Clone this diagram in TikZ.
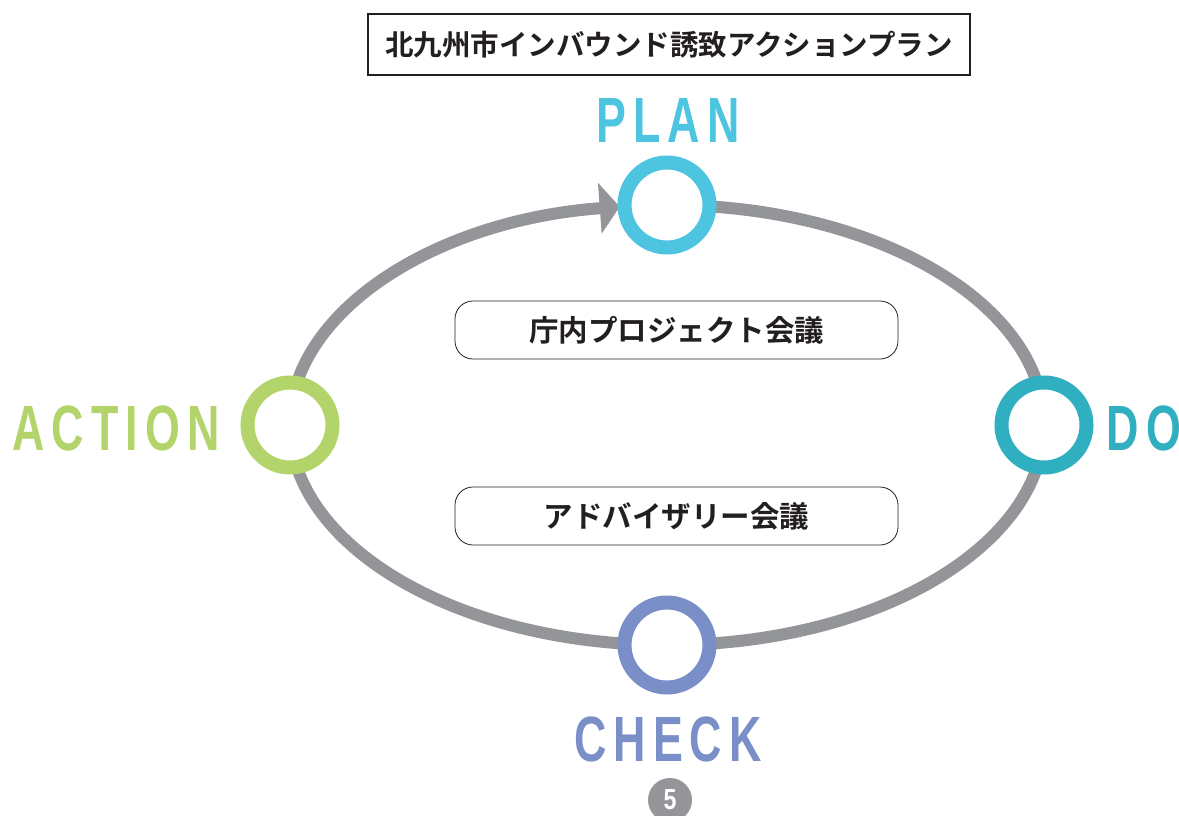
\documentclass[tikz,border=0pt]{standalone}
\usepackage{fontspec}
\usetikzlibrary{arrows.meta}
\newfontfamily\cjk{Noto Sans CJK JP}[BoldFont={Noto Sans CJK JP Bold}]
\newfontfamily\lblfont{Liberation Sans}[FakeStretch=0.7,LetterSpace=11,BoldFont={Liberation Sans Bold}]
\newfontfamily\numfont{Liberation Sans}[FakeStretch=0.8,BoldFont={Liberation Sans Bold}]
\definecolor{ringgray}{HTML}{939598}
\definecolor{plancol}{HTML}{4DC4E0}
\definecolor{docol}{HTML}{2FAFBF}
\definecolor{checkcol}{HTML}{7A8FC8}
\definecolor{actcol}{HTML}{B2D46A}
\definecolor{ink}{HTML}{231F20}
\pgfdeclarelayer{bg}
\pgfsetlayers{bg,main}
\begin{document}
\begin{tikzpicture}[x=1pt,y=-1pt,
  ring/.style={circle,draw=#1,line width=14pt,fill=white,minimum size=85pt,inner sep=0pt},
  cycleline/.style={draw=ringgray,line width=12pt},
  phase/.style={text=#1,font=\lblfont\bfseries\fontsize{64}{64}\selectfont,inner sep=0pt},
  meeting/.style={draw=ink,line width=0.8pt,rounded corners=18pt,minimum width=443pt,minimum height=58pt,inner sep=0pt,
    font=\cjk\bfseries\fontsize{29.5}{29.5}\selectfont,text=ink}]
\useasboundingbox (0,0) rectangle (1179,816);

\node[draw=ink,line width=1.2pt,minimum width=602pt,minimum height=61pt,inner sep=0pt,
  font=\cjk\bfseries\fontsize{28.5}{28.5}\selectfont,text=ink] (title) at (669,44.5) {北九州市インバウンド誘致アクションプラン};

\node[ring=plancol] (plan) at (667,205) {};
\node[ring=docol] (do) at (1044,425) {};
\node[ring=checkcol] (check) at (667,645) {};
\node[ring=actcol] (action) at (290,425) {};

\begin{pgfonlayer}{bg}
\fill[white] (0,0) rectangle (1179,816);
\draw[cycleline,-{Triangle[length=20pt,width=50pt]}] (action.center) arc[start angle=180,end angle=97.2,x radius=377pt,y radius=220pt];
\draw[cycleline] (plan.center) arc[start angle=90,end angle=0,x radius=377pt,y radius=220pt];
\draw[cycleline] (do.center) arc[start angle=0,end angle=-90,x radius=377pt,y radius=220pt];
\draw[cycleline] (check.center) arc[start angle=270,end angle=180,x radius=377pt,y radius=220pt];
\end{pgfonlayer}

\node[phase=plancol] (planlbl) at (668,120) {PLAN};
\node[phase=docol] (dolbl) at (1144,428) {DO};
\node[phase=checkcol] (checklbl) at (668,739) {CHECK};
\node[phase=actcol] (actlbl) at (116,428) {ACTION};

\node[meeting] (m1) at (676.5,330) {庁内プロジェクト会議};
\node[meeting] (m2) at (676.5,516) {アドバイザリー会議};

\node[circle,fill=ringgray,minimum size=44pt,inner sep=0pt,text=white,
  font=\numfont\bfseries\fontsize{29}{29}\selectfont] (num) at (670,800) {5};
\end{tikzpicture}
\end{document}
